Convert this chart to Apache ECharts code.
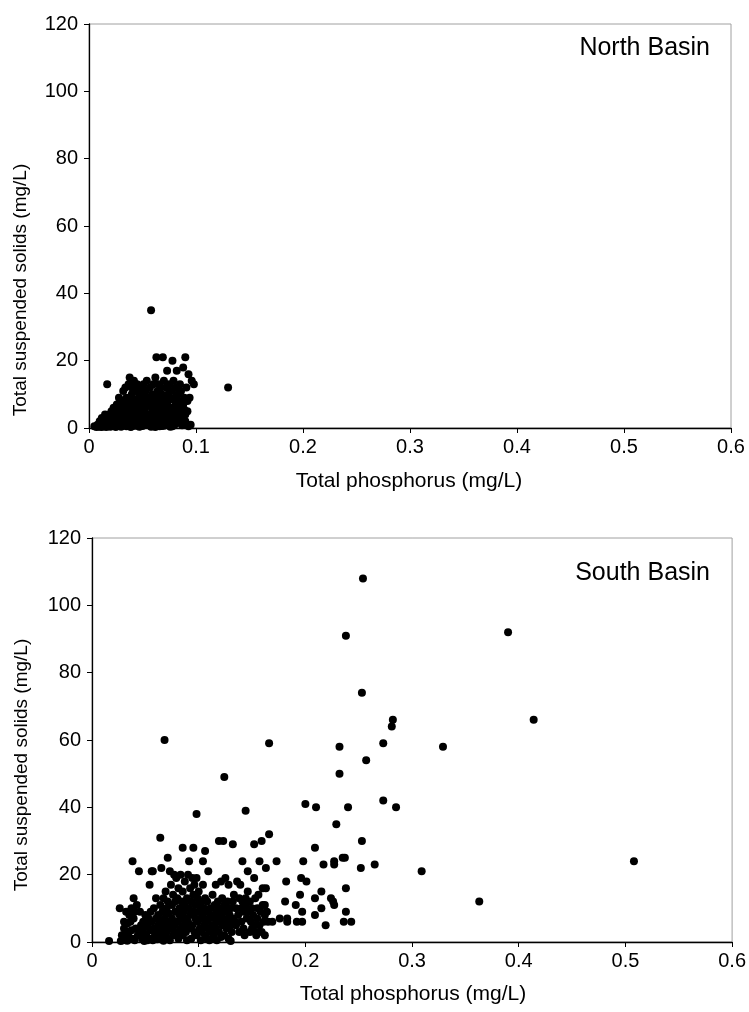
<!DOCTYPE html>
<html><head><meta charset="utf-8">
<script src="https://cdn.jsdelivr.net/npm/echarts@6/dist/echarts.min.js"></script>
<style>html,body{margin:0;padding:0;background:#fff}#c{width:749px;height:1012px}</style>
</head><body><div id="c"></div>
<script>
const xTicks = [0, 0.1, 0.2, 0.3, 0.4, 0.5, 0.6];
const yTicks = [0, 20, 40, 60, 80, 100, 120];
const xTitle = 'Total phosphorus (mg/L)';
const yTitle = 'Total suspended solids (mg/L)';
const panelNames = ['North Basin', 'South Basin'];

const northTP = [0.005,0.007,0.008,0.009,0.010,0.010,0.011,0.012,0.012,0.013,0.014,0.014,0.015,0.015,0.016,0.016,0.017,0.017,0.018,0.018,0.019,0.019,0.020,0.020,0.021,0.021,0.022,0.022,0.023,0.023,0.024,0.024,0.025,0.025,0.026,0.026,0.027,0.027,0.028,0.028,0.029,0.029,0.030,0.030,0.030,0.031,0.031,0.032,0.032,0.032,0.033,0.033,0.034,0.034,0.035,0.035,0.035,0.036,0.036,0.037,0.037,0.038,0.038,0.038,0.039,0.039,0.040,0.040,0.040,0.041,0.041,0.042,0.042,0.043,0.043,0.044,0.044,0.045,0.045,0.045,0.046,0.046,0.047,0.047,0.048,0.048,0.049,0.049,0.050,0.050,0.050,0.051,0.051,0.052,0.052,0.053,0.053,0.054,0.054,0.055,0.055,0.056,0.056,0.057,0.057,0.058,0.058,0.058,0.059,0.059,0.060,0.060,0.061,0.061,0.062,0.062,0.063,0.063,0.063,0.064,0.064,0.065,0.065,0.066,0.066,0.067,0.067,0.068,0.068,0.069,0.069,0.070,0.070,0.070,0.071,0.071,0.072,0.072,0.073,0.073,0.074,0.074,0.075,0.075,0.076,0.076,0.077,0.077,0.078,0.078,0.079,0.079,0.080,0.080,0.081,0.081,0.082,0.082,0.083,0.083,0.084,0.085,0.085,0.086,0.086,0.087,0.088,0.088,0.089,0.090,0.090,0.091,0.092,0.092,0.093,0.094,0.095,0.096,0.098,0.130,0.035,0.043,0.048,0.053,0.057,0.062,0.068,0.073,0.078,0.082,0.087,0.090,0.093,0.040,0.045,0.060,0.065,0.071,0.076,0.084,0.089];
const northTSS = [0.5,0.3,1,0.5,2,0.4,1.2,0.3,3,1.5,0.6,2.5,4,0.9,1.8,0.3,3,13,2,0.5,4,1,2.8,0.4,1.6,5,3.5,0.8,2.2,6,1,4.2,0.3,3,7,1.8,5,0.6,2.6,9,4,1.2,6,0.4,3.2,8,2,11,5,0.8,3.6,7,1.4,12,4.8,9,0.5,2.8,6.5,13,1,15,3.8,8,5.5,0.3,10,2.2,12,6.8,1.5,4,14,8.5,0.7,3,11,5.8,1.2,13,7.5,2.5,9.5,0.4,4.5,12,6,1.8,10,3.4,0.6,8,13,5,2,11,7,14,0.9,4,9,6.5,1.5,12,3,35,8,0.4,10,5,2.5,13,7,0.8,15,4,21,9,1.6,11,6,3,13,0.5,8,5,12,2,10,21,7,14,3.5,0.7,9,5.5,12,1.4,17,7.5,4,10,13,2,6,0.4,8.5,11,20,3,5,14,9,1,7,12,17,4,2.5,10,6,8,13,3,11,5,18,7,9,21,4,12,5,8,16,9,1,14,13,12,2,1.5,0.5,3,1,0.3,0.6,1.2,0.5,1.5,0.8,2,0.5,0.5,3.5,5.5,10,2,3.5,2.5,5.5];

const southTP = [0.026,0.027,0.028,0.029,0.030,0.030,0.031,0.032,0.032,0.033,0.033,0.034,0.035,0.035,0.036,0.037,0.037,0.038,0.039,0.039,0.040,0.040,0.041,0.042,0.043,0.044,0.044,0.045,0.046,0.047,0.048,0.048,0.049,0.050,0.050,0.051,0.052,0.052,0.053,0.054,0.054,0.055,0.055,0.056,0.057,0.057,0.058,0.058,0.059,0.060,0.060,0.061,0.062,0.062,0.063,0.064,0.064,0.065,0.065,0.066,0.066,0.067,0.067,0.068,0.068,0.069,0.069,0.070,0.070,0.071,0.071,0.072,0.072,0.073,0.073,0.074,0.074,0.075,0.075,0.076,0.076,0.077,0.077,0.078,0.078,0.079,0.079,0.080,0.080,0.081,0.081,0.082,0.082,0.083,0.083,0.084,0.084,0.085,0.085,0.086,0.086,0.087,0.087,0.088,0.088,0.089,0.089,0.090,0.090,0.091,0.091,0.092,0.092,0.093,0.093,0.094,0.094,0.095,0.095,0.096,0.096,0.097,0.097,0.098,0.098,0.099,0.099,0.100,0.100,0.101,0.101,0.102,0.102,0.103,0.103,0.104,0.104,0.105,0.105,0.106,0.106,0.107,0.107,0.108,0.108,0.109,0.110,0.110,0.111,0.111,0.112,0.113,0.113,0.114,0.115,0.115,0.116,0.116,0.117,0.117,0.118,0.118,0.119,0.120,0.120,0.121,0.121,0.122,0.122,0.123,0.124,0.124,0.125,0.125,0.126,0.127,0.127,0.128,0.128,0.129,0.130,0.130,0.131,0.132,0.132,0.133,0.134,0.135,0.135,0.136,0.137,0.138,0.138,0.139,0.140,0.140,0.141,0.142,0.142,0.143,0.144,0.145,0.145,0.146,0.147,0.148,0.148,0.149,0.150,0.150,0.151,0.152,0.152,0.153,0.154,0.155,0.155,0.156,0.157,0.158,0.159,0.160,0.160,0.161,0.162,0.163,0.164,0.165,
0.254,0.238,0.390,0.253,0.282,0.281,0.414,0.068,0.166,0.232,0.273,0.329,0.257,0.232,0.124,0.200,0.210,0.240,0.273,0.285,0.098,0.144,0.229,0.064,0.166,0.159,0.152,0.119,0.123,0.132,0.209,0.253,0.085,0.095,0.106,0.071,0.235,0.237,0.038,0.091,0.104,0.141,0.157,0.173,0.198,0.227,0.227,0.217,0.265,0.252,0.508,0.309,0.363,0.056,0.109,0.146,0.163,0.182,0.196,0.201,0.238,0.215,0.195,0.209,0.224,0.226,0.227,0.181,0.191,0.215,0.197,0.238,0.209,0.183,0.183,0.192,0.197,0.236,0.243,0.219,0.169,0.176,0.162,0.143,0.154,0.162,0.016,0.130];
const southTSS = [10,0.3,2,0.5,4,6,1.5,9,3,0.4,5.5,2.5,8,0.8,6,3.5,10,1,13,7,9,0.5,4,11,2,4,21,9,5,1,3,6,0.3,4.5,8,2,0.5,5,7,17,1,9,3.5,6,21,0.5,10,4,2,13,7,0.8,5,8,3,11,1.5,22,6,4,9,0.4,13,2.5,7,15,5,10,3,1,12,6,8.5,21,0.5,4,17,11,7,2,14,20,5,9,12,3,19,6,13,1,16,8,10,4,20,7,12,2,15,9,5,18,11,3,7,13,0.5,20,6,10,4,16,8,1,12,19,5,14,9,3,17,7,11,19,2,13,6,15,9,4,11,0.5,7,12,3,8,17,5,10,2,13,6,9,1,12,4,7,0.5,10,3,8,14,5,2,11,7,17,4,9,0.5,12,6,3,8,10,1.5,18,5,13,7,11,2,9,19,4,12,6,17,1,8,10,5,3,12,7,14,6,10,5,18,8,13,3,17,10,6,12,9,4,11,13,7,10,15,9,3,12,6,10,4,8,19,5,13,3,10,7,14,5,9,3,11,16,6,11,16,9,6,
108,91,92,74,66,64,66,60,59,58,59,58,54,50,49,41,40,40,42,40,38,39,35,31,32,30,29,30,30,29,28,30,28,28,27,25,25,25,24,24,24,24,24,24,24,24,23,23,23,22,24,21,12,21,21,21,22,18,19,18,16,15,14,13,13,12,11,12,11,10,9,9,8,7,6,6,6,6,6,5,6,7,8,2,2,2,0.3,0.3];

const toPairs = (xs, ys) => xs.map((x, i) => [x, ys[i]]);
const northData = toPairs(northTP, northTSS);
const southData = toPairs(southTP, southTSS);

const FONT = 'Liberation Sans, Arial, sans-serif';
const grids = [
  {left: 89, right: 18, top: 24, height: 404},
  {left: 92, right: 16, top: 538, height: 404}
];
function xAxis(i) {
  return {
    type: 'value', gridIndex: i, min: xTicks[0], max: xTicks[xTicks.length-1], interval: 0.1,
    axisLine: {show: true, onZero: false, lineStyle: {color: '#000', width: 1.3}},
    axisTick: {show: true, length: 5, lineStyle: {color: '#000'}},
    axisLabel: {color: '#000', fontFamily: FONT, fontSize: 20, margin: 9,
      formatter: v => String(+v.toFixed(1))},
    splitLine: {show: false}
  };
}
function yAxis(i) {
  return {
    type: 'value', gridIndex: i, min: yTicks[0], max: yTicks[yTicks.length-1], interval: 20,
    axisLine: {show: true, lineStyle: {color: '#000', width: 1.3}},
    axisTick: {show: true, length: 5, lineStyle: {color: '#000'}},
    axisLabel: {color: '#000', fontFamily: FONT, fontSize: 20, margin: 11},
    splitLine: {show: false}
  };
}
function txt(text, x, y, size, align, rot) {
  return {type: 'text', x: x, y: y, rotation: rot || 0,
    style: {text: text, fill: '#000', font: size + 'px ' + FONT,
      align: align, verticalAlign: 'middle', textAlign: align, textVerticalAlign: 'middle'}};
}
const chart = echarts.init(document.getElementById('c'), null, {renderer: 'canvas'});
chart.setOption({
  animation: false,
  backgroundColor: '#fff',
  grid: grids.map(g => Object.assign({show: true, borderColor: '#a0a0a0', borderWidth: 1, backgroundColor: 'transparent'}, g)),
  xAxis: [xAxis(0), xAxis(1)],
  yAxis: [yAxis(0), yAxis(1)],
  series: [
    {type: 'scatter', xAxisIndex: 0, yAxisIndex: 0, data: northData, symbolSize: 8, itemStyle: {color: '#000', opacity: 1}},
    {type: 'scatter', xAxisIndex: 1, yAxisIndex: 1, data: southData, symbolSize: 8, itemStyle: {color: '#000', opacity: 1}}
  ],
  graphic: [
    txt(panelNames[0], 710, 48, 25, 'right'),
    txt(panelNames[1], 710, 573, 25, 'right'),
    txt(xTitle, 409, 481, 21, 'center'),
    txt(xTitle, 413, 994, 21, 'center'),
    txt(yTitle, 21, 290, 19, 'center', Math.PI / 2),
    txt(yTitle, 22, 765, 19, 'center', Math.PI / 2)
  ]
});
</script></body></html>
